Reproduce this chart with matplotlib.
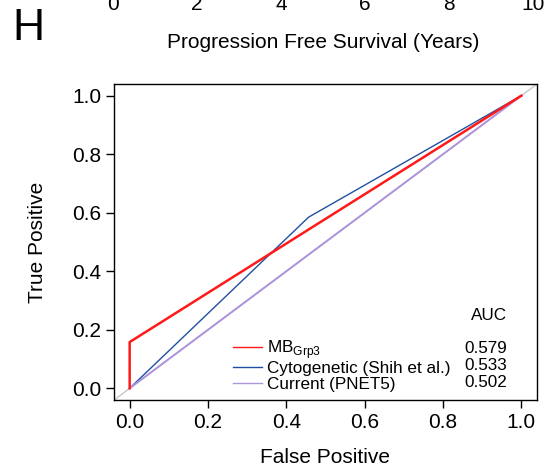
import matplotlib.pyplot as plt

plt.rcParams['font.family'] = ['Liberation Sans', 'DejaVu Sans']

# ROC curves (false positive rate, true positive rate)
fpr_grp3 = [0.0, 0.0, 1.0]
tpr_grp3 = [0.0, 0.158, 1.0]
fpr_cyto = [0.0, 0.457, 1.0]
tpr_cyto = [0.0, 0.585, 1.0]
fpr_curr = [0.0, 1.0]
tpr_curr = [0.0, 1.0]

labels = ['MB$_{\\mathregular{Grp3}}$', 'Cytogenetic (Shih et al.)', 'Current (PNET5)']
auc = ['0.579', '0.533', '0.502']
colors = ['#ff1a1a', '#2050a0', '#ad94dc']
widths = [1.8, 1.0, 1.4]

ticks = [0.0, 0.2, 0.4, 0.6, 0.8, 1.0]
top_ticks = [0, 2, 4, 6, 8, 10]

fig = plt.figure(figsize=(5.51, 4.66), dpi=100)

# remnant of the panel above (cut off)
axt = fig.add_axes([113 / 551, 1.0 + 5 / 466, (533 - 113) / 551, 0.001])
axt.set_xlim(0, 10)
axt.set_xticks(top_ticks)
axt.set_xticklabels([str(t) for t in top_ticks], fontsize=15)
axt.tick_params(length=0, pad=0)
axt.set_yticks([])
for s in axt.spines.values():
    s.set_visible(False)
axt.patch.set_visible(False)
axt.set_xlabel('Progression Free Survival (Years)', fontsize=15, labelpad=14)

fig.text(28 / 551, 1 - 29 / 466, 'H', fontsize=32, ha='center', va='center')

ax = fig.add_axes([114 / 551, 66 / 466, 423 / 551, 316 / 466])
ax.set_xlim(-0.04, 1.04)
ax.set_ylim(-0.04, 1.04)
ax.plot([-0.04, 1.04], [-0.04, 1.04], color='#c8c8c8', lw=1.0, zorder=1)

curves = [(fpr_grp3, tpr_grp3), (fpr_cyto, tpr_cyto), (fpr_curr, tpr_curr)]
handles = []
for (x, y), c, w, lab in zip(curves, colors, widths, labels):
    h, = ax.plot(x, y, color=c, lw=w, label=lab, zorder=3 if c == colors[0] else 2)
    handles.append(h)

ax.set_xticks(ticks)
ax.set_yticks(ticks)
ax.set_xticklabels(['%.1f' % t for t in ticks], fontsize=15)
ax.set_yticklabels(['%.1f' % t for t in ticks], fontsize=15)
ax.tick_params(length=6, width=1, pad=3)
for s in ax.spines.values():
    s.set_linewidth(1.0)
ax.set_xlabel('False Positive', fontsize=15, labelpad=12)
ax.set_ylabel('True Positive', fontsize=15, labelpad=18)

leg = ax.legend(handles=handles, loc='center left', bbox_to_anchor=(0.281, 0.111),
                frameon=False, fontsize=12.3, borderpad=0, borderaxespad=0,
                handlelength=1.7, handletextpad=0.3, labelspacing=0.05)
for ln in leg.get_lines():
    ln.set_linewidth(1.0)

ax.text(0.887, 0.266, 'AUC', transform=ax.transAxes, fontsize=12.3,
        ha='center', va='center')
for i, a in enumerate(auc):
    ax.text(0.929, 0.164 - i * 0.054, a, transform=ax.transAxes,
            fontsize=12.3, ha='right', va='center')

fig.savefig('out.png', dpi=100)
